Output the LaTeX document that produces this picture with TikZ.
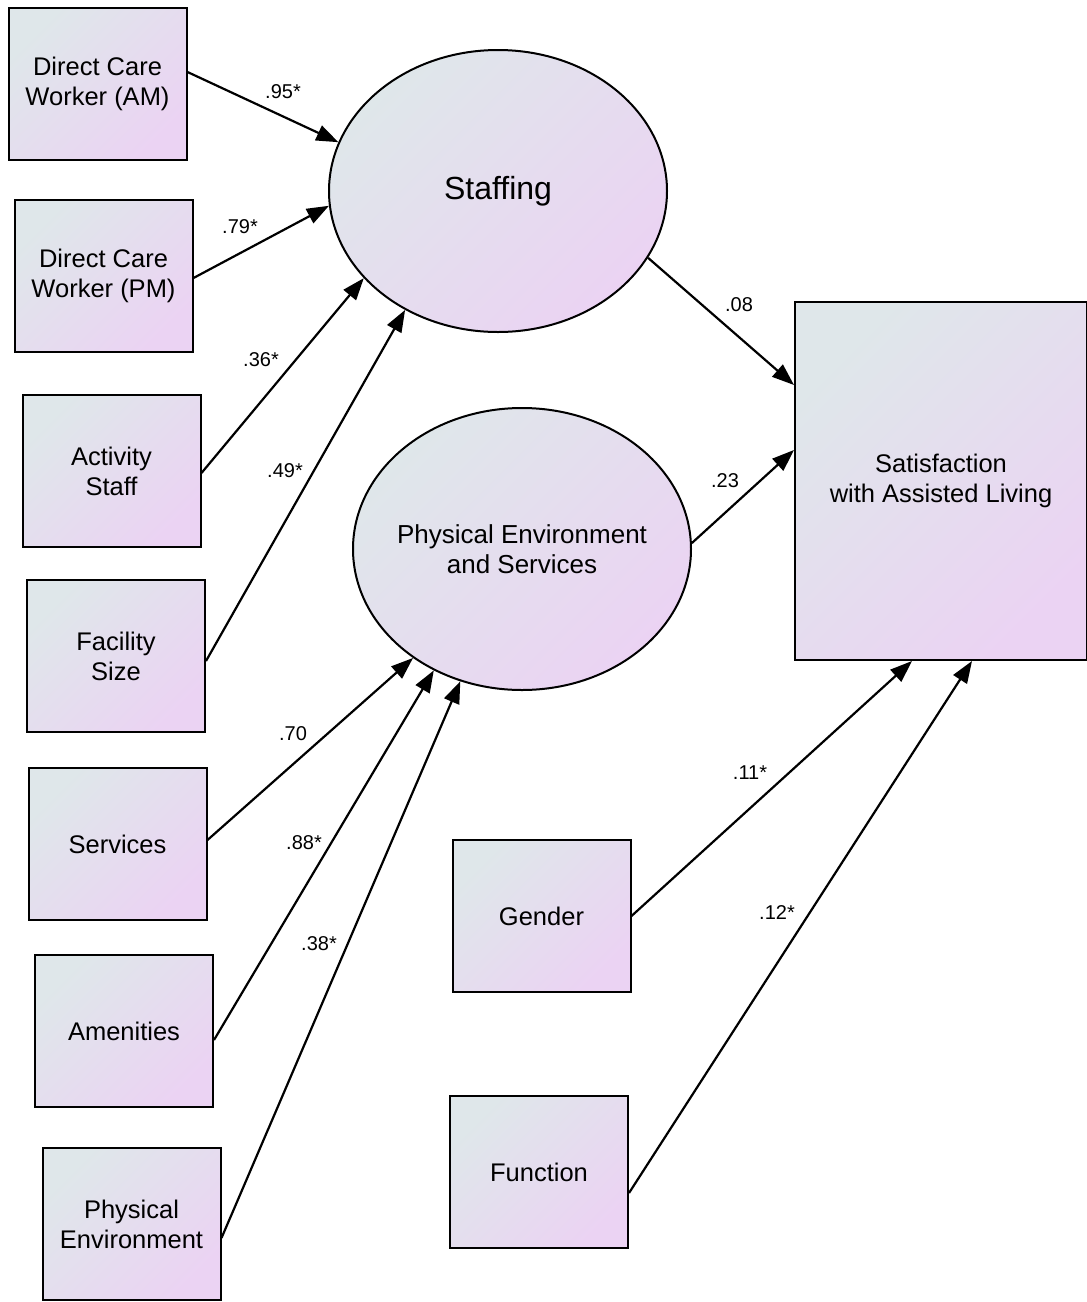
\documentclass[tikz,border=0pt]{standalone}
\usepackage{fontspec}
\setmainfont{Liberation Sans}
\usetikzlibrary{arrows.meta,shapes.geometric}
\definecolor{gA}{HTML}{DFE7EA}
\definecolor{gB}{HTML}{EBD3F3}
\tikzset{
  grad/.style={top color=gA, bottom color=gB, shading angle=45, draw=black, line width=2pt},
  obsbox/.style={grad, rectangle, minimum width=178pt, minimum height=152pt, inner sep=0pt,
    align=center, font=\fontsize{25.5}{30}\selectfont},
  latent/.style={grad, ellipse, minimum width=338pt, minimum height=282pt, inner sep=0pt},
  latext/.style={align=center, inner sep=0pt},
  path/.style={line width=2.2pt, -{Triangle[length=22pt,width=16pt]}},
  coef/.style={font=\fontsize{20}{22}\selectfont, inner sep=0pt}
}
\begin{document}
\begin{tikzpicture}[x=1pt,y=-1pt]
\useasboundingbox (0,0) rectangle (1087,1302);
% observed boxes
\node[obsbox] (am) at (97.5,84) {Direct Care\\Worker (AM)};
\node[obsbox] (pm) at (103.5,276) {Direct Care\\Worker (PM)};
\node[obsbox] (act) at (111.5,471) {Activity\\Staff};
\node[obsbox] (fac) at (116,656) {Facility\\Size};
\node[obsbox] (ser) at (117.5,844) {Services};
\node[obsbox] (ame) at (124,1031) {Amenities};
\node[obsbox] (phy) at (131.5,1224) {Physical\\Environment};
\node[obsbox] (gen) at (541.5,916) {Gender};
\node[obsbox] (fun) at (539,1172) {Function};
\node[obsbox, minimum width=292pt, minimum height=358pt] (sat) at (941,481) {Satisfaction\\with Assisted Living};
% latent ellipses
\node[latent] (stf) at (498,191) {};
\node[latext, font=\fontsize{32}{36}\selectfont] (stftext) at (stf) {Staffing};
\node[latent] (pes) at (522,549) {};
\node[latext, font=\fontsize{26}{30}\selectfont] (pestext) at (pes) {Physical Environment\\and Services};
% paths
\draw[path] ([yshift=12pt]am.east) -- (stf.163);
\draw[path] ([yshift=-2pt]pm.east) -- (stf.185.8);
\draw[path] ([yshift=-2pt]act.east) -- (stf.213.4);
\draw[path] ([yshift=-5pt]fac.east) -- (stf.232.3);
\draw[path] ([yshift=4pt]ser.east) -- (pes.225.5);
\draw[path] ([yshift=-9pt]ame.east) -- (pes.234.7);
\draw[path] ([yshift=-14pt]phy.east) -- (pes.245.1);
\draw[path] (stf.336.2) -- ([yshift=96pt]sat.west);
\draw[path] (pes.2) -- ([yshift=31pt]sat.west);
\draw[path] (gen.east) -- ([xshift=-29pt]sat.south);
\draw[path] ([yshift=-21pt]fun.east) -- ([xshift=31pt]sat.south);
% coefficients
\node[coef] (c1) at (283,92) {.95*};
\node[coef] (c2) at (240,227) {.79*};
\node[coef] (c3) at (261,360) {.36*};
\node[coef] (c4) at (285,471) {.49*};
\node[coef] (c5) at (293,734) {.70};
\node[coef] (c6) at (304,843) {.88*};
\node[coef] (c7) at (319,944) {.38*};
\node[coef] (c8) at (739,305) {.08};
\node[coef] (c9) at (725,481) {.23};
\node[coef] (c10) at (750,773) {.11*};
\node[coef] (c11) at (777,913) {.12*};
\end{tikzpicture}
\end{document}
